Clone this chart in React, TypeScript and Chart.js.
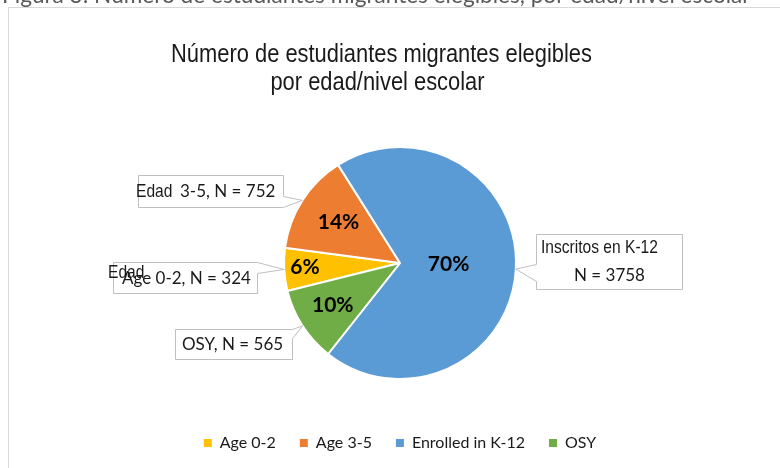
import { useEffect, useRef } from 'react';
import { Chart, registerables } from 'chart.js';

Chart.register(...registerables);

// ---------- data ----------
const categories = ['Age 0-2', 'Age 3-5', 'Enrolled in K-12', 'OSY'];
const counts = [324, 752, 3758, 565];
const sliceColors = ['#FFC000', '#ED7D31', '#5B9BD5', '#70AD47'];
const titleLines = ['Número de estudiantes migrantes elegibles', 'por edad/nivel escolar'];
const captionText = 'Figura 3: Número de estudiantes migrantes elegibles, por edad/nivel escolar';
// callout text per slice: list of lines; each line list of [text, narrow?]
const calloutText: [string, boolean][][][] = [
  [[['Edad', true]], [['Age 0-2, N = 324', false]]],
  [[['Edad', true], ['3-5, N = 752', false]]],
  [[['Inscritos en K-12', true]], [['N = 3758', false]]],
  [[['OSY, N = 565', false]]],
];

// ---------- layout / style (not data) ----------
const LATO = 'Lato, "Open Sans", sans-serif';
const calloutLayout = [
  { rect: [113, 262, 257, 293], side: 'right', base: [262, 273], pos: [[108, 273], [122, 279]] },
  { rect: [138, 175, 283, 207], side: 'right', base: [196, 207], pos: [[136, 192], [180, 192]] },
  { rect: [536, 234, 682, 289], side: 'left', base: [264, 281], pos: [[541, 248], [574, 276]] },
  { rect: [175, 329, 292, 359], side: 'right', base: [329, 338], pos: [[182, 345]] },
];
const pctRadiusFrac = [0.82, 0.63, 0.42, 0.69];

let narrowOK: boolean | null = null;
function narrowFont(ctx: CanvasRenderingContext2D, size: number) {
  if (narrowOK === null) {
    ctx.save();
    ctx.font = `${size}px "Liberation Sans Narrow", "Liberation Sans"`;
    const a = ctx.measureText('Inscritos en K-12').width;
    ctx.font = `${size}px "Liberation Sans"`;
    const b = ctx.measureText('Inscritos en K-12').width;
    ctx.restore();
    narrowOK = Math.abs(a - b) > 1;
  }
  return narrowOK;
}

function drawNarrow(ctx: CanvasRenderingContext2D, text: string, x: number, y: number, size: number, align: CanvasTextAlign = 'left') {
  const ok = narrowFont(ctx, size);
  ctx.save();
  ctx.textAlign = align;
  if (ok) {
    ctx.font = `${size}px "Liberation Sans Narrow"`;
    ctx.fillText(text, x, y);
  } else {
    ctx.font = `${size}px "Liberation Sans"`;
    ctx.translate(x, y);
    ctx.scale(0.82, 1);
    ctx.fillText(text, 0, 0);
  }
  ctx.restore();
}

const decorPlugin = {
  id: 'decor',
  afterDatasetsDraw(chart: any) {
    const ctx: CanvasRenderingContext2D = chart.ctx;
    const meta = chart.getDatasetMeta(0);
    const total = counts.reduce((a, b) => a + b, 0);
    ctx.save();

    // outer frame (only top/left visible)
    ctx.strokeStyle = '#d9d9d9';
    ctx.lineWidth = 1;
    ctx.beginPath();
    ctx.moveTo(8.5, 480);
    ctx.lineTo(8.5, 7.5);
    ctx.lineTo(800, 7.5);
    ctx.stroke();

    // cut-off caption at very top
    ctx.fillStyle = '#595959';
    ctx.font = `22.6px ${LATO}`;
    ctx.textBaseline = 'alphabetic';
    ctx.textAlign = 'left';
    ctx.fillText(captionText, 2, 3);

    // title
    ctx.fillStyle = '#1a1a1a';
    ctx.textBaseline = 'alphabetic';
    drawNarrow(ctx, titleLines[0], 381.5, 62, 26.7, 'center');
    drawNarrow(ctx, titleLines[1], 377.5, 90, 26.7, 'center');

    // callouts
    meta.data.forEach((arc: any, i: number) => {
      const p = arc.getProps(['x', 'y', 'startAngle', 'endAngle', 'outerRadius'], true);
      const mid = (p.startAngle + p.endAngle) / 2;
      const tx = p.x + Math.cos(mid) * p.outerRadius;
      const ty = p.y + Math.sin(mid) * p.outerRadius;
      const L = calloutLayout[i];
      const [x1, y1, x2, y2] = L.rect.map((v) => v + 0.5);
      const [b1, b2] = L.base.map((v) => v + 0.5);
      ctx.beginPath();
      if (L.side === 'right') {
        ctx.moveTo(x1, y1);
        ctx.lineTo(x2, y1);
        ctx.lineTo(x2, b1);
        ctx.lineTo(tx, ty);
        ctx.lineTo(x2, b2);
        ctx.lineTo(x2, y2);
        ctx.lineTo(x1, y2);
      } else {
        ctx.moveTo(x1, y1);
        ctx.lineTo(x2, y1);
        ctx.lineTo(x2, y2);
        ctx.lineTo(x1, y2);
        ctx.lineTo(x1, b2);
        ctx.lineTo(tx, ty);
        ctx.lineTo(x1, b1);
      }
      ctx.closePath();
      ctx.fillStyle = '#ffffff';
      ctx.fill();
      ctx.strokeStyle = '#bfbfbf';
      ctx.lineWidth = 1;
      ctx.stroke();

      ctx.fillStyle = '#1a1a1a';
      ctx.textBaseline = 'middle';
      let k = 0;
      calloutText[i].forEach((line) => {
        line.forEach(([t, narrow]) => {
          const [px, py] = L.pos[k++];
          if (narrow) {
            drawNarrow(ctx, t, px, py, 19);
          } else {
            ctx.font = `17px ${LATO}`;
            ctx.textAlign = 'left';
            ctx.fillText(t, px, py);
          }
        });
      });

      // percent label
      const r = p.outerRadius * pctRadiusFrac[i];
      const lx = p.x + Math.cos(mid) * r;
      const ly = p.y + Math.sin(mid) * r;
      ctx.fillStyle = '#000000';
      ctx.font = `bold 21px ${LATO}`;
      ctx.textAlign = 'center';
      ctx.textBaseline = 'middle';
      ctx.fillText(Math.round((counts[i] / total) * 100) + '%', lx, ly - 1);
    });

    ctx.restore();
  },
};

export default function App() {
  const ref = useRef<HTMLCanvasElement | null>(null);
  useEffect(() => {
    if (!ref.current) return;
    const baseGen = (Chart as any).overrides.pie.plugins.legend.labels.generateLabels;
    const chart = new Chart(ref.current, {
      type: 'pie',
      data: {
        labels: categories,
        datasets: [
          {
            data: counts,
            backgroundColor: sliceColors,
            borderColor: '#ffffff',
            borderWidth: 2,
            radius: 116,
          } as any,
        ],
      },
      options: {
        responsive: false,
        animation: false,
        devicePixelRatio: 1,
        rotation: 256,
        layout: { padding: { left: 20, right: 0, top: 115, bottom: 7 } },
        plugins: {
          title: { display: false },
          tooltip: { enabled: false },
          legend: {
            position: 'bottom',
            labels: {
              boxWidth: 8,
              boxHeight: 8,
              padding: 24,
              color: '#1a1a1a',
              font: { family: LATO, size: 16 },
              generateLabels: (c: any) =>
                baseGen(c).map((it: any) => ({ ...it, lineWidth: 0, strokeStyle: 'rgba(0,0,0,0)' })),
            },
          },
        },
      } as any,
      plugins: [decorPlugin],
    });
    return () => chart.destroy();
  }, []);
  return (
    <div style={{ position: 'absolute', left: 0, top: 0, width: 780, height: 468, background: '#ffffff' }}>
      <canvas ref={ref} width={780} height={468} style={{ display: 'block' }} />
    </div>
  );
}
